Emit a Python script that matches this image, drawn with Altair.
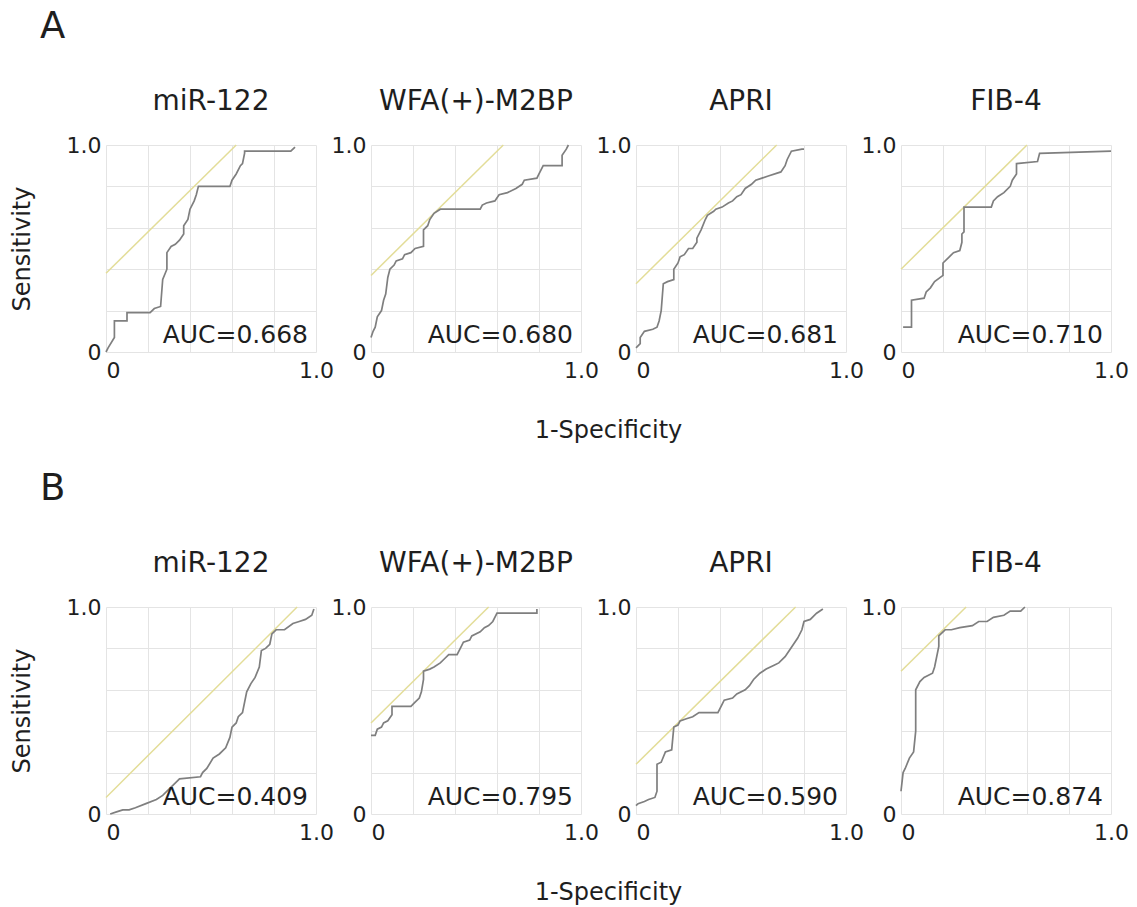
import altair as alt
import pandas as pd

FONT = "DejaVu Sans"
TEXT_COLOR = "#1e1e1e"
CURVE_COLOR = "#7f7f7f"
DIAG_COLOR = "#e3dd98"
GRID_COLOR = "#e4e4e4"

PANEL_TITLES = ["miR-122", "WFA(+)-M2BP", "APRI", "FIB-4"]
ROW_LABELS = ["A", "B"]
AUC_A = ["0.668", "0.680", "0.681", "0.710"]
AUC_B = ["0.409", "0.795", "0.590", "0.874"]
TICKS = [0.0, 0.1, 0.2, 0.3, 0.4, 0.5, 0.6, 0.7, 0.8, 0.9, 1.0]

# ---- Row A ROC curves (1-specificity, sensitivity) ----
A_MIR_FPR = [0.0, 0.01, 0.04, 0.04, 0.10, 0.10, 0.21, 0.23, 0.26, 0.27, 0.29, 0.29, 0.31, 0.33, 0.35, 0.37, 0.37, 0.39, 0.40, 0.42, 0.43, 0.44, 0.59, 0.60, 0.62, 0.64, 0.65, 0.66, 0.66, 0.88, 0.90]
A_MIR_TPR = [0.0, 0.02, 0.07, 0.15, 0.15, 0.19, 0.19, 0.21, 0.22, 0.35, 0.40, 0.48, 0.51, 0.52, 0.54, 0.57, 0.61, 0.64, 0.69, 0.73, 0.76, 0.80, 0.80, 0.83, 0.86, 0.90, 0.91, 0.96, 0.97, 0.97, 0.99]
A_WFA_FPR = [0.0, 0.01, 0.02, 0.03, 0.05, 0.06, 0.07, 0.08, 0.09, 0.11, 0.12, 0.15, 0.16, 0.19, 0.21, 0.25, 0.25, 0.27, 0.28, 0.30, 0.33, 0.52, 0.53, 0.55, 0.59, 0.61, 0.65, 0.69, 0.72, 0.73, 0.79, 0.80, 0.82, 0.91, 0.91, 0.93, 0.94]
A_WFA_TPR = [0.07, 0.10, 0.12, 0.17, 0.20, 0.25, 0.28, 0.36, 0.40, 0.42, 0.44, 0.45, 0.47, 0.48, 0.50, 0.51, 0.59, 0.61, 0.64, 0.67, 0.69, 0.69, 0.71, 0.72, 0.73, 0.76, 0.77, 0.79, 0.81, 0.83, 0.84, 0.86, 0.90, 0.90, 0.95, 0.98, 1.0]
A_APRI_FPR = [0.0, 0.02, 0.02, 0.04, 0.08, 0.10, 0.11, 0.12, 0.13, 0.15, 0.18, 0.18, 0.20, 0.21, 0.23, 0.25, 0.27, 0.29, 0.29, 0.31, 0.33, 0.34, 0.37, 0.38, 0.41, 0.44, 0.46, 0.48, 0.50, 0.52, 0.55, 0.57, 0.60, 0.63, 0.69, 0.71, 0.72, 0.74, 0.79, 0.80]
A_APRI_TPR = [0.02, 0.04, 0.07, 0.10, 0.11, 0.12, 0.15, 0.20, 0.33, 0.34, 0.35, 0.40, 0.43, 0.46, 0.47, 0.50, 0.50, 0.53, 0.55, 0.59, 0.64, 0.66, 0.68, 0.69, 0.70, 0.72, 0.73, 0.75, 0.76, 0.79, 0.81, 0.83, 0.84, 0.85, 0.87, 0.90, 0.93, 0.97, 0.98, 0.98]
A_FIB_FPR = [0.01, 0.05, 0.05, 0.11, 0.12, 0.14, 0.16, 0.20, 0.20, 0.23, 0.25, 0.28, 0.29, 0.29, 0.30, 0.30, 0.43, 0.44, 0.46, 0.49, 0.52, 0.53, 0.55, 0.55, 0.65, 0.66, 1.0]
A_FIB_TPR = [0.12, 0.12, 0.25, 0.26, 0.29, 0.31, 0.34, 0.37, 0.43, 0.46, 0.48, 0.49, 0.53, 0.57, 0.58, 0.70, 0.70, 0.73, 0.75, 0.77, 0.80, 0.83, 0.86, 0.91, 0.92, 0.96, 0.97]

# ---- Row B ROC curves ----
B_MIR_FPR = [0.02, 0.05, 0.08, 0.11, 0.14, 0.19, 0.24, 0.27, 0.31, 0.35, 0.45, 0.46, 0.48, 0.51, 0.54, 0.57, 0.59, 0.60, 0.62, 0.63, 0.65, 0.67, 0.69, 0.71, 0.73, 0.74, 0.76, 0.78, 0.79, 0.81, 0.85, 0.89, 0.92, 0.95, 0.98, 0.99]
B_MIR_TPR = [0.0, 0.01, 0.02, 0.02, 0.03, 0.05, 0.07, 0.09, 0.13, 0.17, 0.18, 0.20, 0.22, 0.27, 0.29, 0.32, 0.37, 0.42, 0.44, 0.47, 0.49, 0.59, 0.63, 0.66, 0.71, 0.79, 0.80, 0.82, 0.87, 0.89, 0.89, 0.92, 0.93, 0.94, 0.96, 0.99]
B_WFA_FPR = [0.0, 0.02, 0.03, 0.05, 0.06, 0.08, 0.10, 0.10, 0.19, 0.21, 0.23, 0.24, 0.25, 0.25, 0.28, 0.30, 0.33, 0.35, 0.37, 0.41, 0.43, 0.44, 0.47, 0.48, 0.52, 0.54, 0.56, 0.58, 0.60, 0.79, 0.79]
B_WFA_TPR = [0.38, 0.38, 0.41, 0.42, 0.44, 0.45, 0.48, 0.52, 0.52, 0.54, 0.56, 0.59, 0.65, 0.69, 0.70, 0.71, 0.73, 0.75, 0.77, 0.77, 0.81, 0.83, 0.84, 0.86, 0.88, 0.90, 0.91, 0.93, 0.97, 0.97, 0.99]
B_APRI_FPR = [0.0, 0.01, 0.04, 0.06, 0.09, 0.10, 0.10, 0.12, 0.14, 0.17, 0.18, 0.20, 0.21, 0.24, 0.27, 0.30, 0.39, 0.41, 0.42, 0.46, 0.48, 0.52, 0.54, 0.56, 0.59, 0.62, 0.66, 0.68, 0.71, 0.73, 0.75, 0.77, 0.79, 0.80, 0.83, 0.86, 0.89]
B_APRI_TPR = [0.04, 0.05, 0.06, 0.07, 0.08, 0.11, 0.24, 0.25, 0.30, 0.31, 0.42, 0.43, 0.45, 0.46, 0.47, 0.49, 0.49, 0.53, 0.55, 0.56, 0.58, 0.60, 0.62, 0.65, 0.68, 0.70, 0.72, 0.73, 0.76, 0.79, 0.82, 0.85, 0.89, 0.93, 0.94, 0.97, 0.99]
B_FIB_FPR = [0.0, 0.01, 0.02, 0.04, 0.06, 0.07, 0.07, 0.07, 0.09, 0.11, 0.15, 0.16, 0.18, 0.18, 0.21, 0.24, 0.28, 0.34, 0.37, 0.41, 0.44, 0.49, 0.52, 0.57, 0.59]
B_FIB_TPR = [0.11, 0.20, 0.22, 0.27, 0.30, 0.40, 0.55, 0.60, 0.64, 0.66, 0.68, 0.71, 0.81, 0.86, 0.89, 0.89, 0.90, 0.91, 0.93, 0.93, 0.95, 0.96, 0.98, 0.98, 1.0]

# tangent (Youden) lines: sensitivity at x=0, and 1-specificity where they reach 1.0
DIAG_A_Y0 = [0.38, 0.37, 0.33, 0.40]
DIAG_A_X1 = [0.62, 0.63, 0.67, 0.60]
DIAG_B_Y0 = [0.08, 0.44, 0.24, 0.69]
DIAG_B_X1 = [0.91, 0.56, 0.76, 0.31]

ROWS = [
    (ROW_LABELS[0], AUC_A, [(A_MIR_FPR, A_MIR_TPR), (A_WFA_FPR, A_WFA_TPR), (A_APRI_FPR, A_APRI_TPR), (A_FIB_FPR, A_FIB_TPR)], DIAG_A_Y0, DIAG_A_X1),
    (ROW_LABELS[1], AUC_B, [(B_MIR_FPR, B_MIR_TPR), (B_WFA_FPR, B_WFA_TPR), (B_APRI_FPR, B_APRI_TPR), (B_FIB_FPR, B_FIB_TPR)], DIAG_B_Y0, DIAG_B_X1),
]

W = 210
H = 207
GAP = 55
ROW_STEP = 462

LABEL_EXPR = "datum.value == 0 ? '0' : (datum.value == 0.5 ? '0.5' : (datum.value == 1 ? '1.0' : ''))"


def make_axis(is_x, title=None):
    kw = dict(
        values=TICKS, labelExpr=LABEL_EXPR, grid=True, domain=False, ticks=False,
        gridColor=GRID_COLOR, gridWidth=1, labelFont=FONT, labelFontSize=22,
        labelColor=TEXT_COLOR, labelOverlap=False, labelFlush=False,
    )
    if is_x:
        kw.update(labelPadding=8, title=None,
                  labelAlign={"condition": {"test": "datum.value == 0", "value": "left"}, "value": "center"})
    else:
        kw.update(labelPadding=5)
        if title:
            kw.update(title=title, titleFont=FONT, titleFontSize=24, titleFontWeight="normal",
                      titleColor=TEXT_COLOR, titlePadding=32)
        else:
            kw.update(title=None)
    return alt.Axis(**kw)


def text_layer(txt, x, y, size, align="center"):
    return alt.Chart(pd.DataFrame({"t": [txt]})).mark_text(
        align=align, baseline="alphabetic", font=FONT, fontSize=size, color=TEXT_COLOR
    ).encode(x=alt.value(x), y=alt.value(y), text="t:N")


def panel(fpr, tpr, y0, x1, auc, title, first, row_label):
    curve_df = pd.DataFrame({"fpr": fpr, "tpr": tpr, "i": list(range(len(fpr)))})
    diag_df = pd.DataFrame({"fpr": [0.0, x1], "tpr": [y0, 1.0]})
    xs = alt.Scale(domain=[0, 1], nice=False)
    ys = alt.Scale(domain=[0, 1], nice=False)

    diag = alt.Chart(diag_df).mark_line(color=DIAG_COLOR, strokeWidth=1.5).encode(
        x=alt.X("fpr:Q", scale=xs, axis=make_axis(True)),
        y=alt.Y("tpr:Q", scale=ys, axis=make_axis(False, "Sensitivity" if first else None)),
    )
    curve = alt.Chart(curve_df).mark_line(color=CURVE_COLOR, strokeWidth=1.7).encode(
        x=alt.X("fpr:Q", scale=xs),
        y=alt.Y("tpr:Q", scale=ys),
        order="i:Q",
    )
    layers = [
        diag, curve,
        text_layer("AUC=" + auc, W - 8, H - 9, 25, align="right"),
        text_layer(title, W / 2, -35, 28),
    ]
    if first:
        layers += [
            text_layer(row_label, -66, -107, 37, align="left"),
            text_layer("1-Specificity", (4 * W + 3 * GAP) / 2, H + 86, 24),
        ]
    return alt.layer(*layers).properties(width=W, height=H)


rows = []
for row_label, aucs, curves, y0s, x1s in ROWS:
    panels = []
    for k in range(4):
        fpr, tpr = curves[k]
        panels.append(panel(fpr, tpr, y0s[k], x1s[k], aucs[k], PANEL_TITLES[k], k == 0, row_label))
    rows.append(alt.hconcat(*panels, spacing=GAP, bounds="flush"))

chart = alt.vconcat(*rows, spacing=ROW_STEP, bounds="flush").configure_view(stroke=None).properties(
    padding={"left": 2, "top": 0, "right": 0, "bottom": 0}
)

chart.save("out.html", embed_options={"renderer": "svg", "actions": False})
